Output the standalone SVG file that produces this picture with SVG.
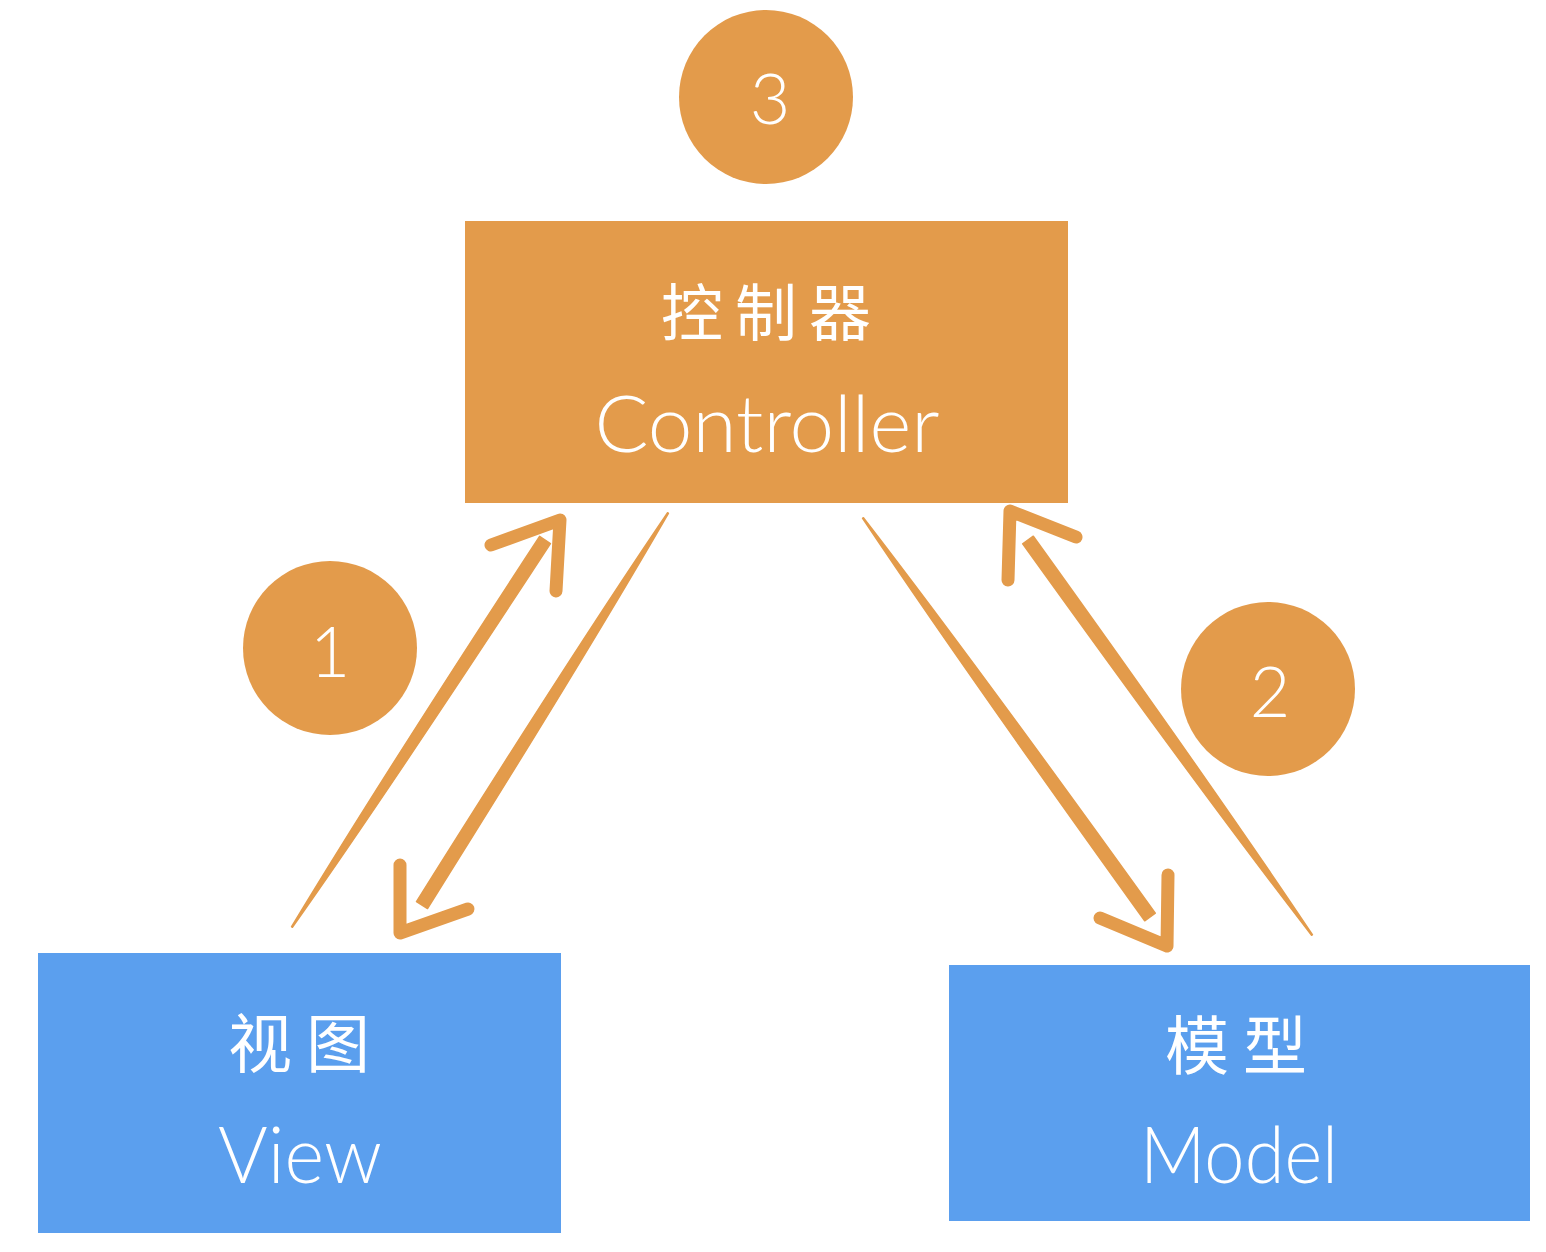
<svg xmlns="http://www.w3.org/2000/svg" width="1546" height="1252" viewBox="0 0 1546 1252">
<style>
.orange{fill:#E39B4B}
.blue{fill:#5B9FEE}
.lbl{fill:#ffffff;font-family:Lato,"Noto Sans CJK SC",sans-serif;font-weight:300;text-anchor:middle}
.cjk{fill:#ffffff;font-family:"Noto Sans CJK SC",sans-serif;font-weight:400;text-anchor:middle}
.num{fill:#ffffff;font-family:Lato,sans-serif;font-weight:300;text-anchor:middle;font-size:70px}
.body{fill:#E39B4B;stroke:#E39B4B;stroke-width:1.5;stroke-linejoin:round}
.head{fill:none;stroke:#E39B4B;stroke-width:13;stroke-linecap:round;stroke-linejoin:round}
</style>
<rect width="1546" height="1252" fill="#ffffff"/>
<g id="connectors">
<path class="body" d="M291.6,926.7 C370.5,796.0 456.1,664.1 539.6,536.4 L550.4,543.6 C466.9,671.3 380.5,802.6 292.4,927.3 Z"/>
<polyline class="head" points="491,545 560,520 556,591"/>
<path class="body" d="M667.6,512.7 C581.7,639.2 497.7,772.2 416.5,901.6 L427.5,908.5 C508.7,779.1 591.9,645.6 668.4,513.3 Z"/>
<polyline class="head" points="400,865 400,933 468,909"/>
<path class="body" d="M862.6,518.3 C952.8,653.2 1050.0,789.1 1144.7,920.8 L1155.3,913.2 C1060.6,781.5 962.6,646.2 863.4,517.7 Z"/>
<polyline class="head" points="1100,918 1167,946 1168,875"/>
<path class="body" d="M1311.6,935.3 C1213.4,808.2 1116.4,674.2 1022.7,543.8 L1033.3,536.2 C1127.0,666.6 1223.2,801.2 1312.4,934.7 Z"/>
<polyline class="head" points="1008,580 1010,511 1076,537"/>
</g>
<g id="badge3">
<circle class="orange" cx="766" cy="97" r="87"/>
<text class="num" x="770" y="124">3</text>
</g>
<g id="badge1">
<circle class="orange" cx="330" cy="648" r="87"/>
<text class="num" x="330" y="677">1</text>
</g>
<g id="badge2">
<circle class="orange" cx="1268" cy="689" r="87"/>
<text class="num" x="1270" y="717">2</text>
</g>
<g id="controller">
<rect class="orange" x="465" y="221" width="603" height="282"/>
<text class="cjk" x="772" y="336" font-size="62" letter-spacing="12">控制器</text>
<text class="lbl" x="767" y="452" font-size="78" textLength="345" lengthAdjust="spacingAndGlyphs">Controller</text>
</g>
<g id="view">
<rect class="blue" x="38" y="953" width="523" height="280"/>
<text class="cjk" x="306" y="1067" font-size="64" letter-spacing="14">视图</text>
<text class="lbl" x="300" y="1183" font-size="78" textLength="164" lengthAdjust="spacingAndGlyphs">View</text>
</g>
<g id="model">
<rect class="blue" x="949" y="965" width="581" height="256"/>
<text class="cjk" x="1243" y="1069" font-size="64" letter-spacing="14">模型</text>
<text class="lbl" x="1239" y="1183" font-size="78" textLength="198" lengthAdjust="spacingAndGlyphs">Model</text>
</g>
</svg>
